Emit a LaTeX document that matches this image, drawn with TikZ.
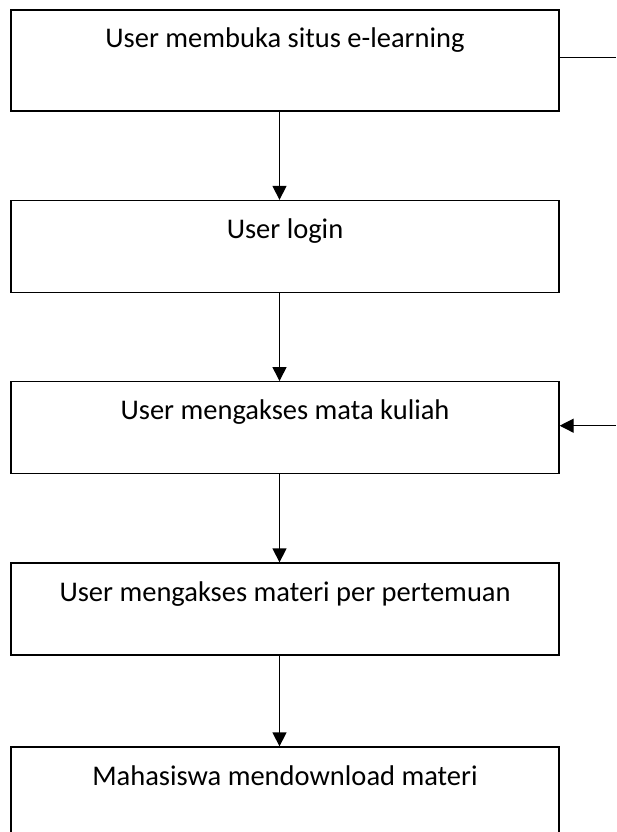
\documentclass[tikz,border=0pt]{standalone}
\usepackage{fontspec}
\setmainfont{Carlito}
\usepackage{tikz}
\usetikzlibrary{arrows.meta}
\tikzstyle{proc}=[rectangle,draw=black,line width=1.3pt,minimum width=548pt,inner sep=0pt,text height=38pt,text depth=54pt,font=\fontsize{28.5}{34}\selectfont]
\tikzstyle{flow}=[-{Triangle[length=14pt,width=14pt]},line width=1.3pt]

\begin{document}
\begin{tikzpicture}[x=1pt,y=-1pt]
      \useasboundingbox (0,0) rectangle (616,832);
      \node[proc,text depth=63pt] at (285,60.5) (P1) {User membuka situs e-learning};
      \node[proc] at (285,246.5) (P2) {User login};
      \node[proc] at (285,427.7) (P3) {User mengakses mata kuliah};
      \node[proc] at (285,609) (P4) {User mengakses materi per pertemuan};
      \node[proc] at (285,793) (P5) {Mahasiswa mendownload materi};
      \coordinate (ax) at (279.5,0);
      \coordinate (edge) at (616,0);
      \draw[flow] (P1.south -| ax) -- (P2.north -| ax);
      \draw[flow] (P2.south -| ax) -- (P3.north -| ax);
      \draw[flow] (P3.south -| ax) -- (P4.north -| ax);
      \draw[flow] (P4.south -| ax) -- (P5.north -| ax);
      \draw[line width=1.3pt] ([yshift=3pt]P1.east) -- ([yshift=3pt]P1.east -| edge);
      \draw[flow] ([yshift=2pt]P3.east -| edge) -- ([yshift=2pt]P3.east);
    \end{tikzpicture}
\end{document}
